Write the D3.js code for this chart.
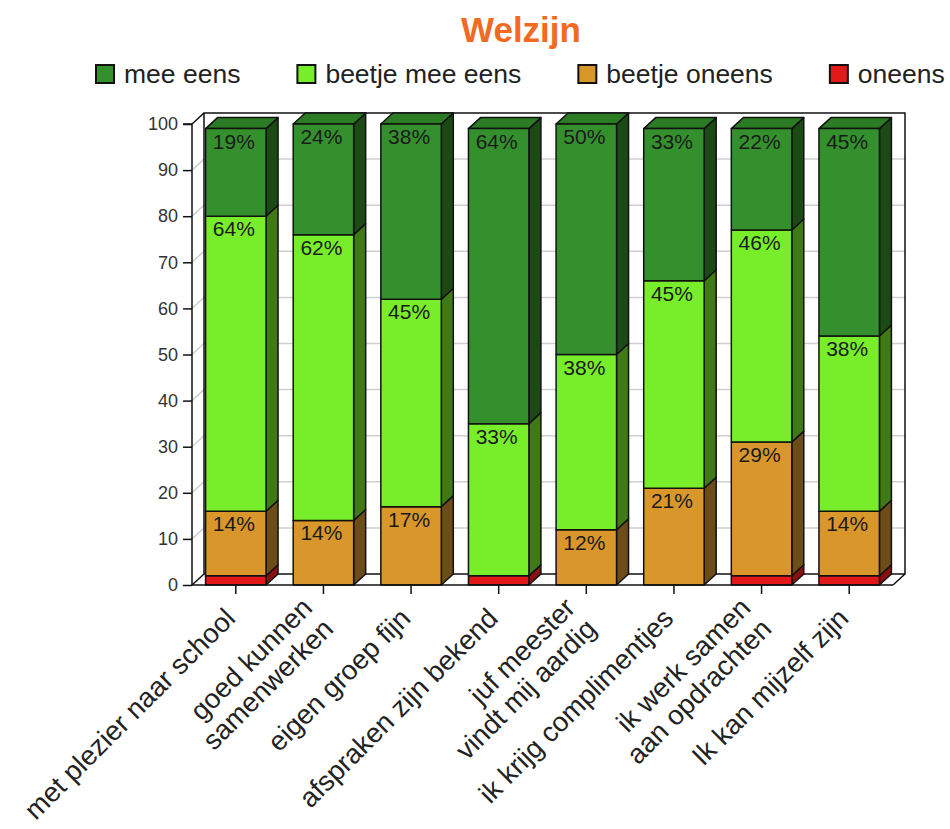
<!DOCTYPE html>
<html>
<head>
<meta charset="utf-8">
<script src="https://cdn.jsdelivr.net/npm/d3@7"></script>
<style>
  body { margin: 0; background: #fff; }
  svg { font-family: "Liberation Sans", Arial, sans-serif; }
</style>
</head>
<body>
<div id="chart-area"></div>
<script>
// Data
const categories = [
	"met plezier naar school",
	"goed kunnen\nsamenwerken",
	"eigen groep fijn",
	"afspraken zijn bekend",
	"juf meester\nvindt mij aardig",
	"ik krijg complimentjes",
	"ik werk samen\naan opdrachten",
	"Ik kan mijzelf zijn"
];
const seriesNames = ["mee eens", "beetje mee eens", "beetje oneens", "oneens"];
const meeEens = [19, 24, 38, 64, 50, 33, 22, 45];
const beetjeMeeEens = [64, 62, 45, 33, 38, 45, 46, 38];
const beetjeOneens = [14, 14, 17, 0, 12, 21, 29, 14];
const oneens = [2, 0, 0, 2, 0, 0, 2, 2];
const yTicks = [0, 10, 20, 30, 40, 50, 60, 70, 80, 90, 100];

// colours: front, side, top
const colors = {
	"mee eens": ["#34902d", "#1c4a15", "#2c7b25"],
	"beetje mee eens": ["#78ee2a", "#3f7a17", "#5cc21f"],
	"beetje oneens": ["#d9962b", "#6c4c17", "#b07a22"],
	"oneens": ["#e21919", "#8a1010", "#b01414"]
};

let width = 950, height = 829;
let plotLeft = 192, plotRight = 893, plotTop = 124, plotBottom = 585;
let dx = 12, dy = 11;

let rows = categories.map((c, i) => ({
	cat: c,
	"mee eens": meeEens[i],
	"beetje mee eens": beetjeMeeEens[i],
	"beetje oneens": beetjeOneens[i],
	"oneens": oneens[i]
}));

let svg = d3.select("#chart-area").append("svg")
	.attr("width", width)
	.attr("height", height);

let x = d3.scaleBand()
	.domain(categories)
	.range([plotLeft, plotRight])
	.paddingInner(0.31)
	.paddingOuter(0.155);

let y = d3.scaleLinear()
	.domain([0, 100])
	.range([plotBottom, plotTop]);

// Title
svg.append("text")
	.attr("x", 521)
	.attr("y", 42)
	.attr("text-anchor", "middle")
	.attr("font-size", 35)
	.attr("font-weight", "bold")
	.attr("fill", "#f26a21")
	.text("Welzijn");

// Legend
let lx = 96;
seriesNames.forEach(name => {
	svg.append("rect")
		.attr("x", lx).attr("y", 65)
		.attr("width", 18).attr("height", 18)
		.attr("fill", colors[name][0])
		.attr("stroke", "#111").attr("stroke-width", 2);
	let t = svg.append("text")
		.attr("x", lx + 28).attr("y", 83)
		.attr("font-size", 26.5)
		.attr("fill", "#222")
		.text(name);
	lx += 28 + t.node().getComputedTextLength() + 57;
});

// Back wall, left wall and floor
let walls = svg.append("g");
walls.append("rect")
	.attr("x", plotLeft + dx).attr("y", plotTop - dy)
	.attr("width", plotRight - plotLeft).attr("height", plotBottom - plotTop)
	.attr("fill", "#fff");

walls.selectAll(".grid")
	.data(yTicks.filter(d => d > 0 && d < 100))
	.enter().append("path")
	.attr("d", d => `M${plotLeft},${y(d)}L${plotLeft + dx},${y(d) - dy}H${plotRight + dx}`)
	.attr("fill", "none")
	.attr("stroke", "#cfcfcf")
	.attr("stroke-width", 1.5);

walls.append("path")
	.attr("d", `M${plotLeft},${plotTop}L${plotLeft + dx},${plotTop - dy}H${plotRight + dx}V${plotBottom - dy}H${plotLeft + dx}V${plotTop - dy}`
		+ `M${plotLeft},${plotBottom}L${plotLeft + dx},${plotBottom - dy}M${plotRight},${plotBottom}L${plotRight + dx},${plotBottom - dy}`)
	.attr("fill", "none")
	.attr("stroke", "#111")
	.attr("stroke-width", 1.5);

// Bars
let stack = d3.stack().keys(seriesNames.slice().reverse());
let layers = stack(rows);

let barG = svg.append("g");
layers.forEach((layer, li) => {
	let key = layer.key;
	layer.forEach((d, i) => {
		if (d[1] - d[0] <= 0) return;
		let x0 = x(d.data.cat), x1 = x0 + x.bandwidth();
		let yb = y(d[0]), yt = y(d[1]);
		let g = barG.append("g")
			.attr("stroke", "#111")
			.attr("stroke-width", 1.5)
			.attr("stroke-linejoin", "round");
		g.append("path")
			.attr("d", `M${x1},${yt}L${x1 + dx},${yt - dy}L${x1 + dx},${yb - dy}L${x1},${yb}Z`)
			.attr("fill", colors[key][1]);
		let isTop = !layers.slice(li + 1).some(l => l[i][1] - l[i][0] > 0);
		if (isTop) {
			g.append("path")
				.attr("d", `M${x0},${yt}L${x0 + dx},${yt - dy}L${x1 + dx},${yt - dy}L${x1},${yt}Z`)
				.attr("fill", colors[key][2]);
		}
		g.append("rect")
			.attr("x", x0).attr("y", yt)
			.attr("width", x.bandwidth()).attr("height", yb - yt)
			.attr("fill", colors[key][0]);
		if (d[1] - d[0] >= 5) {
			barG.append("text")
				.attr("x", (x0 + x1) / 2 - 2)
				.attr("y", yt + 20)
				.attr("text-anchor", "middle")
				.attr("font-size", 21)
				.attr("fill", "#1a1a1a")
				.text((d[1] - d[0]) + "%");
		}
	});
});

// Axes
let yAxis = d3.axisLeft(y).tickValues(yTicks).tickSize(9).tickPadding(5);
let yg = svg.append("g")
	.attr("transform", `translate(${plotLeft},0)`)
	.call(yAxis);
yg.select(".domain").attr("stroke", "#111").attr("stroke-width", 1.5)
	.attr("d", `M-9,${plotTop}H0V${plotBottom}`);
yg.selectAll(".tick line").attr("stroke", "#111").attr("stroke-width", 1.5);
yg.selectAll(".tick text").attr("font-size", 18).attr("fill", "#333")
	.attr("font-family", "Liberation Sans, Arial, sans-serif");

let xAxis = d3.axisBottom(x).tickSize(9).tickFormat("");
let xg = svg.append("g")
	.attr("transform", `translate(0,${plotBottom})`)
	.call(xAxis);
xg.select(".domain").attr("stroke", "#111").attr("stroke-width", 1.5)
	.attr("d", `M${plotLeft},0H${plotRight}`);
xg.selectAll(".tick line").attr("stroke", "#111").attr("stroke-width", 1.5);

// Rotated category labels (multi-line labels centred on the anchor)
let labels = svg.append("g").selectAll("text")
	.data(categories)
	.enter().append("text")
	.attr("transform", d => `translate(${x(d) + x.bandwidth() / 2 + 1},${plotBottom + 35}) rotate(-45)`)
	.attr("text-anchor", "end")
	.attr("font-size", 27.5)
	.attr("fill", "#222");
labels.each(function(d) {
	let lines = d.split("\n");
	let lh = 1.08;
	d3.select(this).selectAll("tspan")
		.data(lines)
		.enter().append("tspan")
		.attr("x", 0)
		.attr("dy", (l, i) => (i === 0 ? -(lines.length - 1) / 2 * lh : lh) + "em")
		.text(l => l);
});
</script>
</body>
</html>
